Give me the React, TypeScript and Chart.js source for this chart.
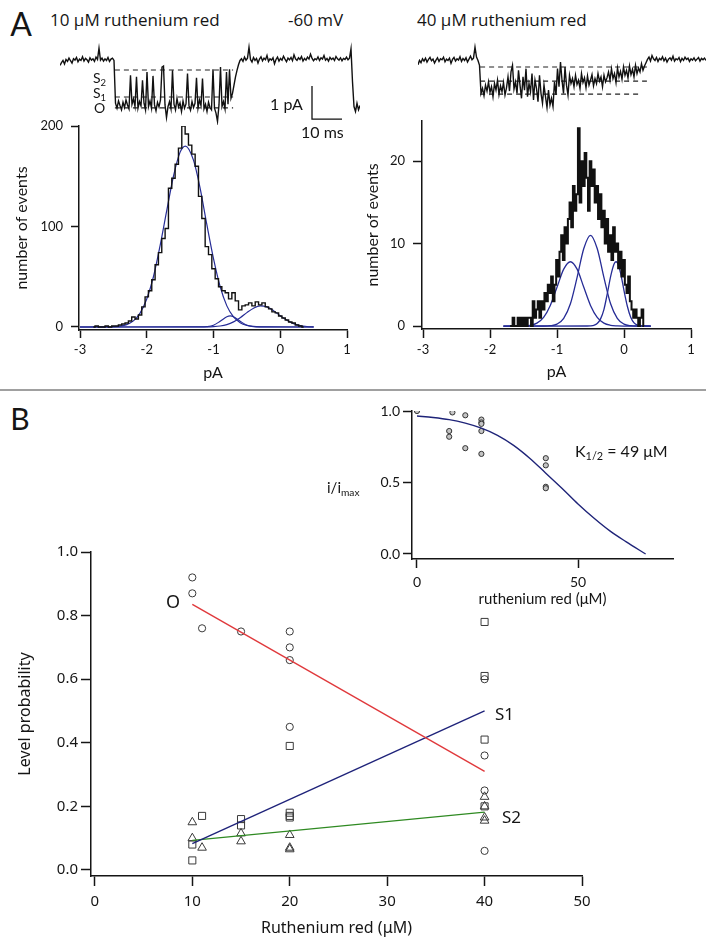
import React, { useEffect, useRef } from "react";
import { Chart, registerables } from "chart.js";
Chart.register(...registerables);

const SANS = "Lato, 'Open Sans', sans-serif";
const SANS_T = "'Open Sans', Lato, sans-serif";
const SANS_B = "'Noto Sans', sans-serif";
const INK = "#151515";
const FIT_BLUE = "#262c96";

// ---------- Panel A: single-channel traces (pA), sampled every 0.5 ms ----------
const TRACE_DT = 0.5;
const trace10uM = [
  -0.10, -0.02, 0.05, -0.06, 0.08, 0.02, 0.12, 0.04, -0.03, 0.10,
  0.06, 0.14, 0.01, 0.09, 0.05, 0.16, 0.03, 0.11, 0.07, 0.00,
  0.13, 0.06, 0.10, 0.02, 0.15, 0.08, 0.42, 0.06, 0.12, 0.03,
  0.10, 0.05, 0.14, 0.02, 0.09, 0.12, 0.05,
  -1.25, -1.40, -1.18, -1.32, -1.45, -1.22, -1.38, -1.15, -1.30, -1.42,
  -0.40, -1.28, -1.12, -1.35, -0.45, -1.40, -1.20, -1.33, -0.55, -1.25,
  -1.45, -0.30, -1.35, -1.18, -1.40, -0.42, -1.30, -1.48, -1.22, -1.36,
  -1.15, -0.15, -0.12, -1.30, -1.68, -1.35, -1.20, -1.42, -0.25, -1.28,
  -1.45, -1.10, -1.36, -1.24, -1.50, -1.18, -1.40, -1.27, -0.35, -1.33,
  -1.46, -1.20, -1.38, -1.25, -0.48, -1.40, -1.15, -1.32, -0.50, -1.42,
  -1.28, -1.50, -1.22, -1.38, -1.45, -0.22, -1.40, -1.55, -1.80, -1.30,
  -0.15, -1.35, -1.20, -1.42, -0.30, -1.28, -0.22, -1.10, -0.95, -0.70,
  -0.45, -0.25, -0.08, 0.05,
  0.10, 0.02, 0.15, 0.06, 0.12, 0.45, 0.08, 0.00, 0.14, 0.05,
  0.11, -0.03, 0.09, 0.16, 0.04, 0.12, 0.07, 0.20, 0.02, 0.10,
  0.06, 0.13, -0.05, 0.08, 0.15, 0.03, 0.11, 0.06, 0.18, 0.09,
  0.01, 0.12, 0.07, 0.14, 0.04, 0.22, 0.10, 0.05, 0.13, 0.08,
  0.17, 0.03, 0.11, 0.06, 0.15, 0.09, 0.24, 0.12, 0.04, 0.10,
  0.07, 0.16, 0.05, 0.13, 0.09, 0.20, 0.06, 0.11, 0.03, 0.14,
  0.08, 0.12, 0.05, 0.17, 0.10, 0.06, 0.13, 0.04, 0.11, 0.08,
  0.15, 0.07,
  0.12, 0.40, -0.60, -1.35, -1.50, -1.25, -1.45, -1.32,
];
const trace40uM = [
  -0.08, 0.05, -0.02, 0.10, 0.03, 0.12, 0.00, 0.08, 0.14, 0.04,
  0.09, -0.03, 0.06, 0.13, 0.02, 0.10, 0.07, 0.15, 0.01, 0.09,
  0.05, 0.12, -0.04, 0.08, 0.14, 0.03, 0.10, 0.06, 0.16, 0.02,
  0.11, 0.05, 0.13, 0.00, 0.09, 0.18, 0.07, 0.12, 0.45, 0.15,
  0.05, -0.10,
  -0.95, -0.80, -1.02, -0.70, -0.88, -0.60, -0.92, -0.75, -1.05, -0.65,
  -0.85, -0.55, -0.98, -0.72, -0.90, -0.62, -1.00, -0.78, -0.45, -0.88,
  -0.30, -0.10, -0.82,
  -0.60, -0.95, -0.25, -0.70, -1.10, -0.45, -0.85, -0.20, -1.05, -0.65,
  -0.90, -0.35, -1.15, -0.55, -0.80, -1.20, -0.40, -0.95, -1.25, -0.70,
  -1.05, -1.38, -0.85, -1.30, -1.10, -1.35,
  -0.60, -1.00, -0.20, -0.75, 0.00, -0.55, -0.95, -0.15, -0.70, -1.00,
  -0.40, -0.65,
  -0.50, -0.75, -0.40, -0.68, -0.55, -0.80, -0.35, -0.62, -0.48, -0.78,
  -0.42, -0.70, -0.55, -0.38, -0.72, -0.50, -0.65, -0.35, -0.58, -0.45,
  -0.75, -0.40, -0.60, -0.48,
  -0.30, -0.55, -0.20, -0.50, -0.35, -0.62, -0.18, -0.45, -0.28, -0.52,
  -0.15, -0.40, -0.25, -0.48, -0.12, -0.38, -0.22, -0.45, -0.10, -0.35,
  -0.18, -0.30, -0.05, -0.25, -0.12, -0.02,
  0.08, 0.15, 0.03, 0.20, 0.10, 0.05, 0.14, 0.02, 0.11, 0.07,
  0.16, 0.04, 0.12, 0.00, 0.09, 0.13, 0.06, 0.18, 0.03, 0.10,
  0.07, 0.14, 0.01, 0.11, 0.05, 0.15, 0.08, 0.12, 0.02, 0.10,
  0.06, 0.13, 0.04, 0.09, 0.14, 0.03, 0.11, 0.07, 0.12, 0.05,
];
// sub-conductance levels (pA) and the time span (ms) of the dashed guides
const levels10uM = [-0.24, -1.06, -1.39];
const levels10Start = [18.3, 18.3, 18.3];
const levels10End = [57.7, 57.7, 57.7];
const levels40uM = [-0.15, -0.58, -0.97];
const levels40Start = [20.7, 20.7, 20.7];
const levels40End = [76.3, 76.3, 74.0];
// scale bar: 10 ms, 1 pA
const scaleBarT = [84, 84, 94];
const scaleBarI = [-0.73, -1.73, -1.73];

// ---------- Panel A: amplitude histograms ----------
const hist10Start = -2.8;
const hist10Bin = 0.05;
const hist10Counts = [
  0, 1, 0, 0, 1, 0, 1, 1, 2, 3, 4, 6, 10, 8, 12, 20, 30, 36, 47, 62,
  74, 88, 98, 138, 148, 162, 178, 200, 192, 181, 172, 160, 130, 108, 80, 72, 58, 48, 40, 36,
  34, 28, 34, 26, 17, 21, 22, 24, 21, 25, 22, 24, 20, 18, 15, 14, 11, 9, 7, 5,
  4, 2, 1, 0,
];
const fit10aX = [-3.0, -2.6, -2.5, -2.4, -2.3, -2.2, -2.1, -2.0, -1.9, -1.8, -1.7, -1.6, -1.5, -1.42, -1.3, -1.2, -1.1, -1.0, -0.9, -0.8, -0.7, -0.6, -0.5, -0.4, -0.3, -0.2, 0.5];
const fit10aY = [0, 0.05, 0.28, 0.86, 2.4, 6.1, 13.8, 27.8, 50, 81, 116, 150, 174, 180, 166, 138, 102, 68, 40, 21, 10, 4.3, 1.6, 0.55, 0.15, 0.04, 0];
const fit10bX = [-3.0, -1.2, -1.1, -1.0, -0.9, -0.8, -0.75, -0.7, -0.6, -0.5, -0.4, -0.3, 0.5];
const fit10bY = [0, 0.02, 0.3, 1.7, 5.7, 10.2, 11, 10.2, 5.7, 1.7, 0.3, 0.03, 0];
const fit10cX = [-3.0, -1.1, -1.0, -0.9, -0.8, -0.7, -0.6, -0.5, -0.4, -0.3, -0.2, -0.1, 0, 0.1, 0.2, 0.3, 0.4, 0.5];
const fit10cY = [0, 0.1, 0.33, 0.97, 2.4, 5.1, 9.2, 14.3, 18.7, 21, 20, 16.2, 11.2, 6.6, 3.3, 1.4, 0.5, 0.15];

const hist40Start = -1.7;
const hist40Bin = 0.025;
const hist40Counts = [
  0, 0, 1, 0, 0, 1, 0, 1, 0, 1, 0, 1, 1, 0, 3, 1, 2, 3, 1, 3,
  2, 4, 3, 5, 4, 6, 3, 5, 8, 6, 9, 11, 8, 12, 10, 13, 15, 12, 17, 14,
  16, 24, 15, 20, 17, 21, 18, 14, 20, 17, 19, 15, 17, 13, 16, 12, 14, 10, 13, 9,
  11, 8, 12, 9, 10, 7, 9, 6, 8, 5, 4, 6, 3, 2, 1, 2, 1, 0, 1, 2,
  0,
];
const fit40aX = [-1.8, -1.6, -1.5, -1.4, -1.3, -1.2, -1.1, -1.0, -0.9, -0.8, -0.7, -0.6, -0.5, -0.4, -0.3, -0.2, -0.1, 0, 0.4];
const fit40aY = [0, 0.003, 0.02, 0.09, 0.35, 1.05, 2.5, 4.7, 6.9, 7.8, 6.9, 4.7, 2.5, 1.05, 0.35, 0.09, 0.02, 0, 0];
const fit40bX = [-1.8, -1.2, -1.1, -1.0, -0.9, -0.8, -0.7, -0.6, -0.5, -0.4, -0.3, -0.2, -0.1, 0, 0.1, 0.2, 0.4];
const fit40bY = [0, 0.004, 0.04, 0.23, 0.93, 2.7, 5.9, 9.4, 11, 9.4, 5.9, 2.7, 0.93, 0.23, 0.04, 0.004, 0];
const fit40cX = [-1.8, -0.55, -0.5, -0.45, -0.4, -0.35, -0.3, -0.25, -0.2, -0.15, -0.12, -0.1, -0.05, 0, 0.05, 0.1, 0.15, 0.2, 0.25, 0.3, 0.4];
const fit40cY = [0, 0.005, 0.02, 0.09, 0.3, 0.87, 2.0, 3.9, 6.0, 7.5, 7.8, 7.7, 6.4, 4.3, 2.4, 1.06, 0.38, 0.11, 0.03, 0.01, 0];

// ---------- Panel B: level probabilities ----------
const levelOX = [10, 10, 11, 15, 20, 20, 20, 20, 40, 40, 40, 40];
const levelOY = [0.92, 0.87, 0.76, 0.75, 0.75, 0.70, 0.66, 0.45, 0.60, 0.36, 0.25, 0.06];
const levelS1X = [10, 10, 11, 15, 15, 20, 20, 20, 20, 40, 40, 40, 40];
const levelS1Y = [0.08, 0.03, 0.17, 0.16, 0.14, 0.39, 0.18, 0.17, 0.165, 0.78, 0.61, 0.41, 0.20];
const levelS2X = [10, 10, 11, 15, 15, 20, 20, 20, 40, 40, 40, 40];
const levelS2Y = [0.15, 0.10, 0.07, 0.115, 0.09, 0.11, 0.07, 0.065, 0.23, 0.20, 0.165, 0.155];
const fitX = [10, 40];
const fitOY = [0.835, 0.31];
const fitS1Y = [0.083, 0.50];
const fitS2Y = [0.093, 0.182];

// inset: normalized current vs ruthenium red
const insetX = [0, 10, 10, 11, 15, 15, 20, 20, 20, 20, 20, 40, 40, 40, 40];
const insetY = [1.0, 0.86, 0.82, 0.99, 0.97, 0.74, 0.94, 0.92, 0.91, 0.86, 0.70, 0.67, 0.62, 0.47, 0.46];
const insetFitX = [0, 5, 10, 15, 20, 25, 30, 35, 40, 45, 50, 55, 60, 65, 71];
const insetFitY = [0.965, 0.955, 0.94, 0.915, 0.88, 0.83, 0.76, 0.67, 0.565, 0.46, 0.35, 0.25, 0.16, 0.085, 0.0];

// ---------- helpers ----------
const pts = (xs: number[], ys: number[]) => xs.map((x, i) => ({ x, y: ys[i] }));
const series = (start: number, step: number, ys: number[]) => ys.map((y, i) => ({ x: start + i * step, y }));

function lineDs(data: any[], color: string, width: number, extra: any = {}) {
  return { data, borderColor: color, borderWidth: width, pointRadius: 0, showLine: true, fill: false, tension: 0, ...extra };
}
function pointDs(data: any[], style: string, radius: number, fillColor = "rgba(0,0,0,0)", border = "#3a3a3a") {
  return { data, showLine: false, pointStyle: style, pointRadius: radius, pointBorderWidth: 1, pointBorderColor: border, pointBackgroundColor: fillColor, borderColor: border, backgroundColor: fillColor };
}

type AxisSpec = {
  min: number; max: number; ticks: number[]; box: number; tickLen: number; pad: number;
  size: number; family: string; horizontal: boolean; title?: string; titleSize?: number; titlePad?: number;
  fmt?: (v: number) => string;
};
function axis(a: AxisSpec) {
  return {
    type: "linear",
    min: a.min,
    max: a.max,
    afterBuildTicks: (s: any) => { s.ticks = a.ticks.map((v) => ({ value: v })); },
    afterFit: (s: any) => { if (a.horizontal) s.height = a.box; else s.width = a.box; },
    grid: { display: true, drawOnChartArea: false, drawTicks: true, tickLength: a.tickLen, tickWidth: 1.5, tickColor: INK },
    border: { display: true, color: INK, width: 1.5 },
    ticks: {
      padding: a.pad, color: INK, autoSkip: false, maxRotation: 0,
      font: { family: a.family, size: a.size },
      callback: (v: any) => (a.fmt ? a.fmt(Number(v)) : String(Number(v))),
    },
    title: a.title
      ? {
          display: true, text: a.title, color: INK,
          font: { family: a.family, size: a.titleSize },
          padding: a.horizontal ? { top: 0, bottom: a.titlePad } : { top: a.titlePad, bottom: 0 },
        }
      : { display: false },
  };
}
const hidden = (min: number, max: number) => ({ type: "linear", display: false, min, max });

function config(datasets: any[], scales: any, padding: any) {
  return {
    type: "scatter",
    data: { datasets },
    options: {
      responsive: false,
      animation: false,
      events: [],
      layout: { padding },
      plugins: { legend: { display: false }, tooltip: { enabled: false } },
      scales,
    },
  };
}

function ChartBox({ left, top, width, height, make }: { left: number; top: number; width: number; height: number; make: () => any }) {
  const ref = useRef<HTMLCanvasElement>(null);
  useEffect(() => {
    const chart = new Chart(ref.current as HTMLCanvasElement, make());
    return () => chart.destroy();
  }, []);
  return (
    <div style={{ position: "absolute", left, top, width, height }}>
      <canvas ref={ref} width={width} height={height} style={{ width, height, display: "block" }} />
    </div>
  );
}

function Txt({ x, y, size, children, anchor = "left", family = SANS }: any) {
  return (
    <div
      style={{
        position: "absolute", left: x, top: y, fontSize: size, fontFamily: family, lineHeight: 1,
        whiteSpace: "nowrap", color: INK,
        transform: anchor === "center" ? "translate(-50%,-50%)" : "translate(0,-50%)",
      }}
    >
      {children}
    </div>
  );
}
const Sub = ({ children }: any) => (
  <span style={{ fontSize: "0.68em", position: "relative", top: "0.32em", lineHeight: 0 }}>{children}</span>
);

// ---------- chart builders ----------
const TRACE_YMIN = -1.91;
const TRACE_YMAX = 0.67;

function makeTrace10() {
  const ds: any[] = [lineDs(series(0, TRACE_DT, trace10uM), "#111", 1.4)];
  levels10uM.forEach((lv, i) =>
    ds.push(lineDs(pts([levels10Start[i], levels10End[i]], [lv, lv]), "#222", 1.2, { borderDash: [5, 4] }))
  );
  ds.push(lineDs(pts(scaleBarT, scaleBarI), "#111", 1.3));
  return config(ds, { x: hidden(0, 100), y: hidden(TRACE_YMIN, TRACE_YMAX) }, 0);
}
function makeTrace40() {
  const ds: any[] = [lineDs(series(0, TRACE_DT, trace40uM), "#111", 1.4)];
  levels40uM.forEach((lv, i) =>
    ds.push(lineDs(pts([levels40Start[i], levels40End[i]], [lv, lv]), "#222", 1.2, { borderDash: [5, 4] }))
  );
  return config(ds, { x: hidden(0, 96), y: hidden(TRACE_YMIN, TRACE_YMAX) }, 0);
}
const smooth = { cubicInterpolationMode: "monotone" };
function makeHist10() {
  const ds = [
    lineDs(series(hist10Start, hist10Bin, hist10Counts), "#111", 1.4, { stepped: "middle" }),
    lineDs(pts(fit10aX, fit10aY), FIT_BLUE, 1.2, smooth),
    lineDs(pts(fit10bX, fit10bY), FIT_BLUE, 1.2, smooth),
    lineDs(pts(fit10cX, fit10cY), FIT_BLUE, 1.2, smooth),
  ];
  return config(ds, {
    x: axis({ min: -3.015, max: 1, ticks: [-3, -2, -1, 0, 1], box: 60, tickLen: 8, pad: 4, size: 13, family: SANS, horizontal: true, title: "pA", titleSize: 16, titlePad: 7.4 }),
    y: axis({ min: -3, max: 200, ticks: [0, 100, 200], box: 79, tickLen: 8, pad: 8, size: 13, family: SANS, horizontal: false, title: "number of events", titleSize: 16, titlePad: 12.4 }),
  }, { top: 16, right: 13, left: 0, bottom: 0 });
}
function makeHist40() {
  const ds = [
    lineDs(series(hist40Start, hist40Bin, hist40Counts), "#111", 2, { stepped: "middle" }),
    lineDs(pts(fit40aX, fit40aY), FIT_BLUE, 1.3, smooth),
    lineDs(pts(fit40bX, fit40bY), FIT_BLUE, 1.3, smooth),
    lineDs(pts(fit40cX, fit40cY), FIT_BLUE, 1.3, smooth),
  ];
  return config(ds, {
    x: axis({ min: -3.015, max: 1, ticks: [-3, -2, -1, 0, 1], box: 61, tickLen: 9, pad: 4, size: 13, family: SANS, horizontal: true, title: "pA", titleSize: 16, titlePad: 8.4 }),
    y: axis({ min: -0.36, max: 24.9, ticks: [0, 10, 20], box: 62, tickLen: 9, pad: 8, size: 13, family: SANS, horizontal: false, title: "number of events", titleSize: 16, titlePad: 3.4 }),
  }, { top: 12, right: 15, left: 0, bottom: 0 });
}
function makeMain() {
  const ds = [
    lineDs(pts(fitX, fitOY), "#e0393c", 1.4),
    lineDs(pts(fitX, fitS1Y), "#1f237a", 1.4),
    lineDs(pts(fitX, fitS2Y), "#2f8a22", 1.4),
    pointDs(pts(levelOX, levelOY), "circle", 3.6),
    pointDs(pts(levelS1X, levelS1Y), "rect", 5),
    pointDs(pts(levelS2X, levelS2Y), "triangle", 5),
  ];
  return config(ds, {
    x: axis({ min: -0.4, max: 50, ticks: [0, 10, 20, 30, 40, 50], box: 73, tickLen: 10, pad: 7, size: 15, family: SANS_B, horizontal: true, title: "Ruthenium red (\u03bcM)", titleSize: 16, titlePad: 11.4 }),
    y: axis({ min: -0.019, max: 1.0, ticks: [0, 0.2, 0.4, 0.6, 0.8, 1.0], box: 91, tickLen: 10, pad: 3, size: 15, family: SANS_B, horizontal: false, title: "Level probability", titleSize: 16, titlePad: 15.4, fmt: (v) => v.toFixed(1) }),
  }, { top: 10, right: 124, left: 0, bottom: 0 });
}
function makeInset() {
  const ds = [
    lineDs(pts(insetFitX, insetFitY), "#1e2378", 1.4, smooth),
    pointDs(pts(insetX, insetY), "circle", 2.6, "#c4c4c4", "#333"),
  ];
  return config(ds, {
    x: axis({ min: -1.55, max: 79.5, ticks: [0, 50], box: 51, tickLen: 9, pad: 5.6, size: 14, family: SANS, horizontal: true, title: "ruthenium red (\u03bcM)", titleSize: 15, titlePad: 2 }),
    y: axis({ min: -0.035, max: 1.0, ticks: [0, 0.5, 1.0], box: 82, tickLen: 9, pad: 3, size: 14, family: SANS, horizontal: false, fmt: (v) => v.toFixed(1) }),
  }, { top: 16, right: 33, left: 0, bottom: 0 });
}

export default function App() {
  return (
    <div style={{ position: "absolute", left: 0, top: 0, width: 706, height: 949, background: "#fff", overflow: "hidden" }}>
      <ChartBox left={0} top={540} width={706} height={409} make={makeMain} />
      <ChartBox left={330} top={395} width={376} height={215} make={makeInset} />
      <ChartBox left={0} top={110} width={360} height={280} make={makeHist10} />
      <ChartBox left={360} top={105} width={346} height={285} make={makeHist40} />
      <ChartBox left={60} top={40} width={300} height={85} make={makeTrace10} />
      <ChartBox left={418} top={40} width={288} height={85} make={makeTrace40} />

      <div style={{ position: "absolute", left: 0, top: 389, width: 706, height: 2, background: "#a0a0a0" }} />

      <Txt x={21} y={24} size={32} anchor="center">A</Txt>
      <Txt x={50} y={19} size={17} family={SANS_T}>10 {"\u03bc"}M ruthenium red</Txt>
      <Txt x={288} y={19} size={17} family={SANS_T}>-60 mV</Txt>
      <Txt x={417} y={19} size={17} family={SANS_T}>40 {"\u03bc"}M ruthenium red</Txt>
      <Txt x={93} y={78} size={14}>S<Sub>2</Sub></Txt>
      <Txt x={93} y={93} size={14}>S<Sub>1</Sub></Txt>
      <Txt x={94} y={108} size={14}>O</Txt>
      <Txt x={270} y={104} size={16}>1 pA</Txt>
      <Txt x={301} y={132} size={16}>10 ms</Txt>

      <Txt x={20} y={418} size={30} anchor="center">B</Txt>
      <Txt x={327} y={487} size={15}>i/i<Sub>max</Sub></Txt>
      <Txt x={575} y={451} size={16}>K<Sub>1/2</Sub> = 49 {"\u03bc"}M</Txt>
      <Txt x={166} y={601} size={18} family={SANS_B}>O</Txt>
      <Txt x={495} y={713} size={17} family={SANS_B}>S1</Txt>
      <Txt x={502} y={816} size={17} family={SANS_B}>S2</Txt>
    </div>
  );
}
